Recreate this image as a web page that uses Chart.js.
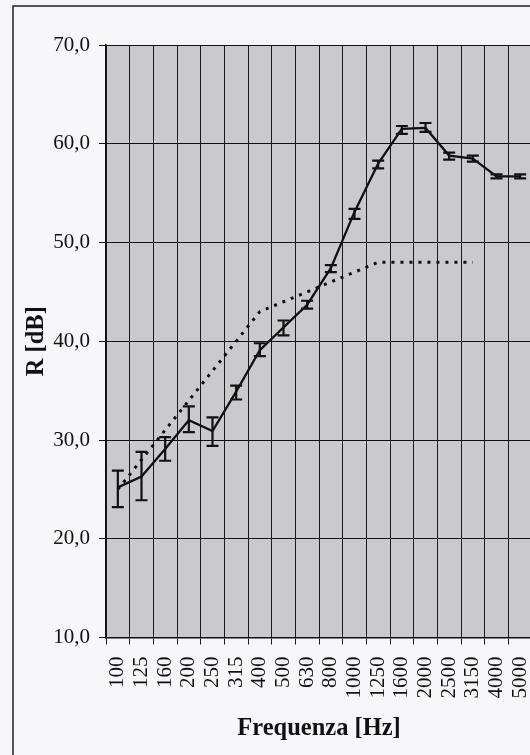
<!DOCTYPE html>
<html>
<head>
<meta charset="utf-8">
<script src="https://cdn.jsdelivr.net/npm/chart.js@4/dist/chart.umd.min.js"></script>
<style>
  html, body { margin: 0; padding: 0; overflow: hidden; background: #f7f7fa; }
  canvas { display: block; }
</style>
</head>
<body>
<canvas id="c" width="545" height="755"></canvas>
<script>
const categories = ['100','125','160','200','250','315','400','500','630','800','1000','1250','1600','2000','2500','3150','4000','5000'];
const measured   = [25.2, 26.3, 29.1, 32.0, 30.9, 34.9, 39.1, 41.4, 43.7, 47.4, 53.1, 58.0, 61.5, 61.6, 58.8, 58.5, 56.7, 56.7];
const errLow     = [23.2, 23.9, 27.9, 30.8, 29.4, 34.1, 38.5, 40.6, 43.3, 47.0, 52.4, 57.5, 61.0, 61.2, 58.4, 58.2, 56.5, 56.5];
const errHigh    = [26.9, 28.8, 30.3, 33.4, 32.3, 35.5, 39.8, 42.1, 44.1, 47.7, 53.4, 58.3, 61.8, 62.1, 59.1, 58.8, 56.9, 56.9];
const reference  = [25, 28, 31, 34, 37, 40, 43, 44, 45, 46, 47, 48, 48, 48, 48, 48, null, null];
const yTickValues = [10, 20, 30, 40, 50, 60, 70];
const yTickLabels = ['10,0', '20,0', '30,0', '40,0', '50,0', '60,0', '70,0'];

const SERIF = "'Liberation Serif', 'Times New Roman', serif";

const bgPlugin = {
  id: 'bg',
  beforeDraw(chart) {
    const {ctx, chartArea: a, width, height} = chart;
    ctx.save();
    ctx.fillStyle = '#f7f7fa';
    ctx.fillRect(0, 0, width, height);
    ctx.fillStyle = '#cacacd';
    ctx.fillRect(a.left, a.top, a.right - a.left, a.bottom - a.top);
    // outer frame
    ctx.strokeStyle = '#222';
    ctx.lineWidth = 1.5;
    ctx.beginPath();
    ctx.moveTo(13, height + 2);
    ctx.lineTo(13, 6);
    ctx.lineTo(width + 2, 6);
    ctx.stroke();
    ctx.restore();
  }
};

const errPlugin = {
  id: 'errbars',
  afterDatasetsDraw(chart) {
    const {ctx, scales: {x, y}} = chart;
    ctx.save();
    ctx.strokeStyle = '#111';
    ctx.lineWidth = 2.2;
    for (let i = 0; i < categories.length; i++) {
      const px = x.getPixelForValue(i);
      const yl = y.getPixelForValue(errLow[i]);
      const yh = y.getPixelForValue(errHigh[i]);
      ctx.beginPath();
      ctx.moveTo(px, yl); ctx.lineTo(px, yh);
      ctx.moveTo(px - 6, yl); ctx.lineTo(px + 6, yl);
      ctx.moveTo(px - 6, yh); ctx.lineTo(px + 6, yh);
      ctx.stroke();
    }
    ctx.restore();
  }
};

new Chart(document.getElementById('c'), {
  type: 'line',
  data: {
    labels: categories,
    datasets: [
      {
        label: 'R misurato',
        data: measured,
        borderColor: '#111',
        borderWidth: 2.3,
        pointRadius: 0,
        tension: 0,
        fill: false
      },
      {
        label: 'Curva di riferimento',
        data: reference,
        borderColor: '#111',
        borderWidth: 3,
        borderDash: [3, 6],
        borderCapStyle: 'butt',
        pointRadius: 0,
        tension: 0,
        fill: false,
        spanGaps: false
      }
    ]
  },
  options: {
    responsive: false,
    animation: false,
    devicePixelRatio: 1,
    layout: { padding: { left: 0, top: 45, right: 13, bottom: 0 } },
    plugins: {
      legend: { display: false },
      tooltip: { enabled: false }
    },
    scales: {
      x: {
        type: 'category',
        offset: true,
        grid: {
          offset: true,
          color: '#1a1a1a',
          lineWidth: 1,
          drawTicks: true,
          tickLength: 7,
          tickColor: '#1a1a1a'
        },
        border: { color: '#111', width: 1.5 },
        ticks: {
          autoSkip: false,
          minRotation: 90,
          maxRotation: 90,
          padding: 12,
          color: '#111',
          font: { family: SERIF, size: 21 }
        },
        title: {
          display: true,
          text: 'Frequenza [Hz]',
          color: '#111',
          font: { family: SERIF, size: 24.5, weight: 'bold' },
          padding: { top: 0, bottom: 12 }
        },
        afterFit(scale) {
          scale.height = 117.5;
          scale.paddingRight = 0;
          scale.paddingLeft = 0;
        }
      },
      y: {
        min: 10,
        max: 70,
        afterBuildTicks(scale) { scale.ticks = yTickValues.map(v => ({ value: v })); },
        grid: {
          color: '#111',
          lineWidth: 1,
          drawTicks: true,
          tickLength: 7,
          tickColor: '#111'
        },
        border: { color: '#111', width: 1.5 },
        ticks: {
          padding: 9,
          color: '#111',
          font: { family: SERIF, size: 21 },
          callback(v) { const i = yTickValues.indexOf(v); return i >= 0 ? yTickLabels[i] : ''; }
        },
        title: {
          display: true,
          text: 'R [dB]',
          color: '#111',
          font: { family: SERIF, size: 24.5, weight: 'bold' },
          padding: { top: 22, bottom: 0 }
        },
        afterFit(scale) { scale.width = 106; }
      }
    }
  },
  plugins: [bgPlugin, errPlugin]
});
</script>
</body>
</html>
